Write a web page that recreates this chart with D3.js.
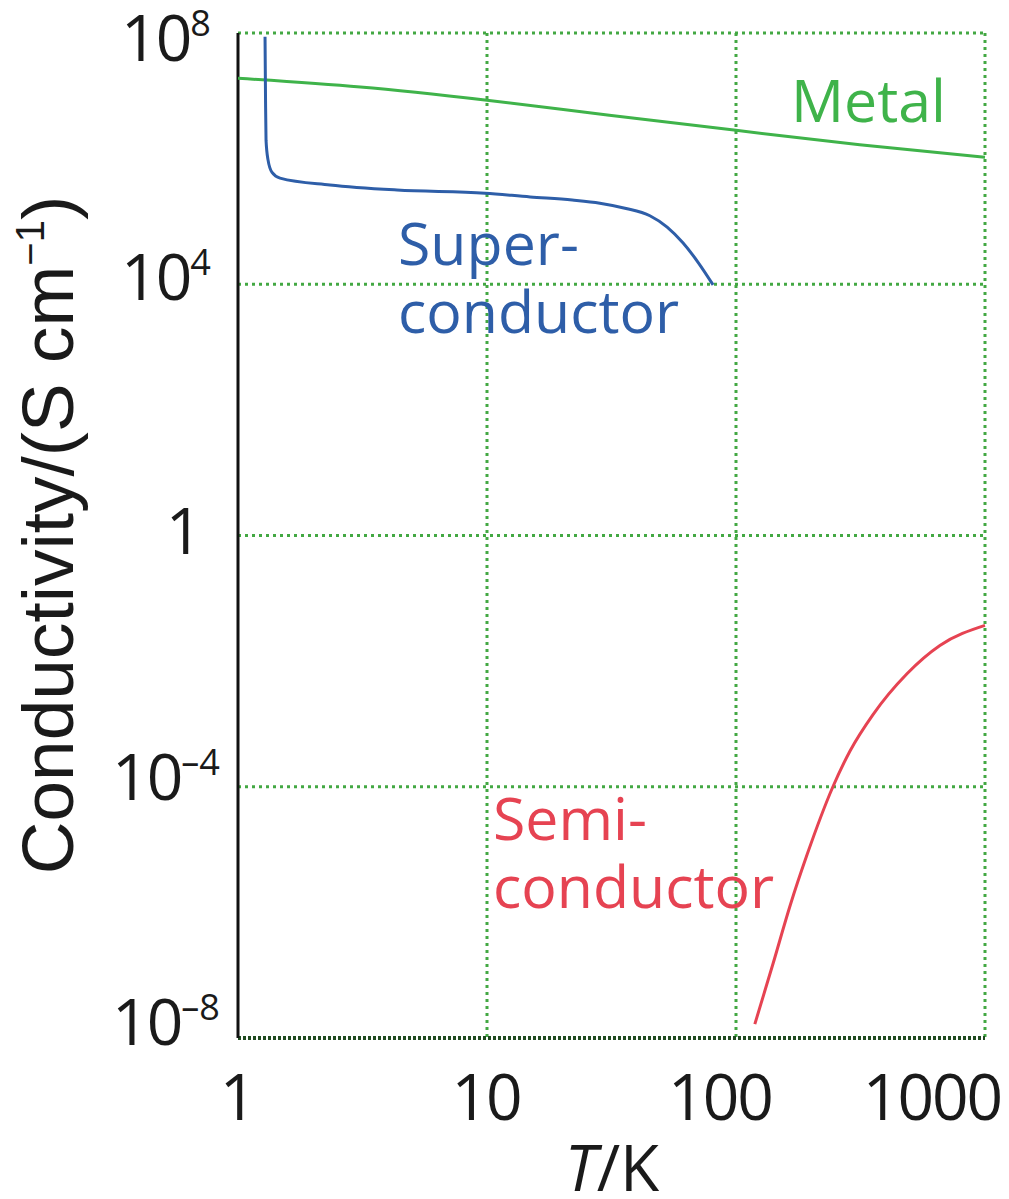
<!DOCTYPE html>
<html><head><meta charset="utf-8">
<script src="https://cdn.jsdelivr.net/npm/d3@7"></script>
<style>body{margin:0;background:#fff}svg{display:block}</style>
</head><body>
<script>
// Data (T in K, log10 conductivity in S/cm)
const metalT = [1, 3.1, 10, 31, 100, 314, 1000];
const metalLogS = [7.28, 7.14, 6.93, 6.69, 6.45, 6.22, 6.02];
const superT = [1.284, 1.29, 1.296, 1.32, 1.37, 1.475, 2.34, 4.35, 9.82, 14.9, 22, 28.4, 35.8, 45.1, 52.9, 61.2, 70.4, 80.9];
const superLogS = [7.94, 6.93, 6.29, 5.98, 5.78, 5.69, 5.58, 5.50, 5.45, 5.39, 5.34, 5.29, 5.21, 5.09, 4.91, 4.66, 4.35, 3.99];
const semiT = [119, 141, 165, 193, 245, 287, 355, 486, 659, 1000];
const semiLogS = [-7.78, -6.81, -5.89, -5.08, -4.0, -3.43, -2.85, -2.20, -1.75, -1.43];
const xTicks = [1, 10, 100, 1000];
const xTickLabels = ["1", "10", "100", "1000"];
const yTicks = [8, 4, 0, -4, -8];
const yTickLabels = [["10","8"],["10","4"],["1",""],["10","\u20134"],["10","\u20138"]];

const W = 1009, H = 1199;
const svg = d3.select("body").append("svg").attr("width", W).attr("height", H);
const x = d3.scaleLog().domain([1, 1000]).range([238, 985]);
const y = d3.scaleLinear().domain([-8, 8]).range([1038, 33]);
const grid = "#43a843";

// gridlines
const g = svg.append("g");
g.selectAll(".vg").data(xTicks.slice(1)).enter().append("line")
  .attr("x1", d => x(d)).attr("x2", d => x(d)).attr("y1", y(8)).attr("y2", y(-8))
  .attr("stroke", grid).attr("stroke-width", 3).attr("stroke-dasharray", "3,4");
g.selectAll(".hg").data(yTicks.slice(0, 4)).enter().append("line")
  .attr("x1", x(1)).attr("x2", x(1000)).attr("y1", d => y(d)).attr("y2", d => y(d))
  .attr("stroke", grid).attr("stroke-width", 3).attr("stroke-dasharray", "3,4");
g.append("line").attr("x1", x(1)).attr("x2", x(1000)).attr("y1", y(-8)).attr("y2", y(-8))
  .attr("stroke", "#1f4a1f").attr("stroke-width", 4).attr("stroke-dasharray", "3,2");
g.append("line").attr("x1", x(1)).attr("x2", x(1)).attr("y1", y(8)).attr("y2", y(-8))
  .attr("stroke", "#111").attr("stroke-width", 3);

// tick labels
const tickFont = "'Open Sans', 'Noto Sans', sans-serif";
const xLabelPos = [237, 486, 720, 932];
svg.selectAll(".xt").data(xTicks).enter().append("text")
  .attr("x", (d, i) => xLabelPos[i])
  .attr("y", 1120).attr("text-anchor", "middle")
  .attr("font-family", tickFont).attr("font-size", 64).attr("letter-spacing", -2).attr("fill", "#1a1a1a")
  .text((d, i) => xTickLabels[i]);

const yOff = [28, 16, 18, 13, 7];
const yt = svg.selectAll(".yt").data(yTicks).enter().append("text")
  .attr("x", (d, i) => i === 2 ? 183 : 166)
  .attr("y", (d, i) => y(d) + yOff[i])
  .attr("text-anchor", "middle")
  .attr("font-family", tickFont).attr("font-size", 64).attr("letter-spacing", -2).attr("fill", "#1a1a1a");
yt.append("tspan").text((d, i) => yTickLabels[i][0]);
yt.append("tspan").attr("font-size", 36).attr("letter-spacing", 0).attr("dy", -25).text((d, i) => yTickLabels[i][1]);

// axis titles
const xt = svg.append("text").attr("x", 612).attr("y", 1191).attr("text-anchor", "middle")
  .attr("font-family", tickFont).attr("font-size", 64).attr("fill", "#1a1a1a");
xt.append("tspan").attr("font-style", "italic").text("T");
xt.append("tspan").text("/K");

const yTitle = svg.append("text")
  .attr("transform", "translate(73,535) rotate(-90)").attr("text-anchor", "middle")
  .attr("font-family", "'Liberation Sans', Arial, sans-serif").attr("font-size", 73).attr("fill", "#1a1a1a");
yTitle.append("tspan").text("Conductivity/(S cm");
yTitle.append("tspan").attr("font-size", 40).attr("dy", -29).text("\u22121");
yTitle.append("tspan").attr("dy", 29).text(")");

// curves
const line = d3.line().x(d => x(d[0])).y(d => y(d[1])).curve(d3.curveMonotoneX);
function draw(T, S, color) {
  svg.append("path").datum(T.map((t, i) => [t, S[i]]))
    .attr("d", line).attr("fill", "none").attr("stroke", color).attr("stroke-width", 3);
}
const cMetal = "#3fb34a", cSuper = "#2e5ea8", cSemi = "#e64352";
draw(metalT, metalLogS, cMetal);
draw(superT, superLogS, cSuper);
draw(semiT, semiLogS, cSemi);

// labels
const lf = "'Open Sans', 'Noto Sans', sans-serif";
function label(txt, px, py, color) {
  svg.append("text").attr("x", px).attr("y", py).attr("font-family", lf)
    .attr("font-size", 59).attr("fill", color).text(txt);
}
label("Metal", 791, 122, cMetal);
label("Super-", 398, 265, cSuper);
label("conductor", 398, 333, cSuper);
label("Semi-", 493, 840, cSemi);
label("conductor", 493, 908, cSemi);
</script>
</body></html>
